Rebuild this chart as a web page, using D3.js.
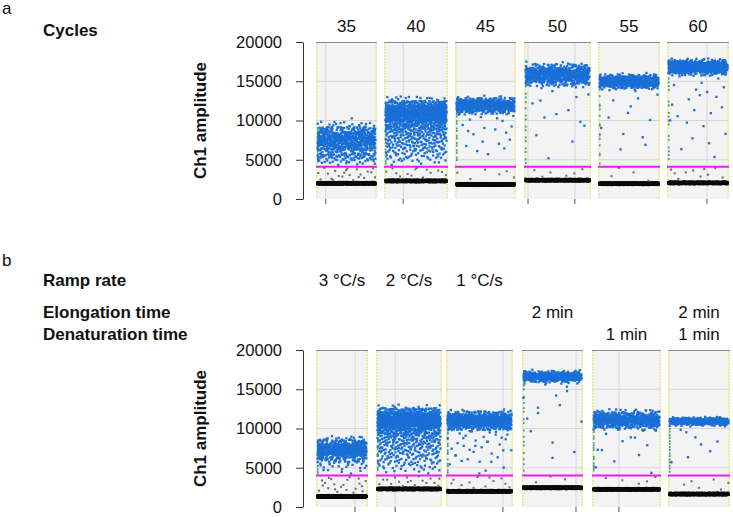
<!DOCTYPE html>
<html><head><meta charset="utf-8">
<script src="https://cdn.jsdelivr.net/npm/d3@7"></script>
<style>
html,body{margin:0;padding:0;background:#fff;}
svg{display:block;font-family:"Liberation Sans",Arial,sans-serif;}
</style></head>
<body>
<svg id="chart" width="733" height="517"></svg>
<script>
// ---------------- DATA ----------------
const cycleLabels = ["35","40","45","50","55","60"];
const rampLabels  = ["3 °C/s","2 °C/s","1 °C/s","","",""];
const elongLabels = ["","","","2 min","","2 min"];
const denatLabels = ["","","","","1 min","1 min"];
const yTicks = [0,5000,10000,15000,20000];

const thresholdA = 4100;
const thresholdB = 4000;

// panel a (cycles): cluster summaries
const negLevelA   = [2000,2300,1850,2400,1950,2050];
const posCenterA  = [7500,10900,11900,15800,14950,16800];
const posHalfA    = [2900,2500,1400,1900,1200,1300];
const posCountA   = [620,1000,600,650,650,700];
const rainCountA  = [70,300,20,14,14,24];
const negRainA    = [22,14,6,6,4,10];

// panel b (ramp rate / elongation / denaturation)
const negLevelB   = [1350,2300,2000,2450,2250,1650];
const posCenterB  = [7300,11000,11000,16600,11100,10900];
const posHalfB    = [2000,2300,1600,1000,1600,700];
const posCountB   = [520,1000,780,450,600,420];
const rainCountB  = [35,300,40,14,14,9];
const negRainB    = [22,18,12,3,5,6];

// ---------------- LAYOUT ----------------
const layoutA = {top:42, bottom:199, panels:[[316,377],[384,448],[455,516],[524,591],[598,660],[667,729]],
  vgrid:[[0.16],[0.30],[],[0.06,0.76],[],[0.645]]};
const layoutB = {top:350, bottom:507, panels:[[316,368],[376,442],[446,513],[522,583],[592,661],[668,730]],
  vgrid:[[0.75],[0.29],[0.85],[0.885],[0.39],[]]};

const svg = d3.select("#chart");

function halton(i, b){ let f=1, r=0; while(i>0){ f/=b; r+=f*(i%b); i=Math.floor(i/b);} return r; }

function drawBlock(layout, thr, negL, posC, posH, posN, rainN, negRainN, blockIdx){
  const y = d3.scaleLinear().domain([0,20000]).range([layout.bottom, layout.top]);
  const ax = svg.append("g").attr("transform",`translate(303,0)`)
    .call(d3.axisLeft(y).tickValues(yTicks).tickSize(7).tickSizeOuter(0).tickPadding(14).tickFormat(d3.format("d")));
  ax.select(".domain").attr("stroke","#333");
  ax.selectAll(".tick line").attr("stroke","#333");
  ax.selectAll("text").attr("font-size","16.5px").attr("fill","#111");

  layout.panels.forEach((p,i)=>{
    const [x0,x1] = p;
    const x = d3.scaleLinear().domain([0,1]).range([x0+1.5,x1-1.5]);
    const g = svg.append("g");
    const cid = `clip${blockIdx}_${i}`;
    svg.append("clipPath").attr("id",cid).append("rect")
      .attr("x",x0).attr("y",layout.top).attr("width",x1-x0).attr("height",layout.bottom-layout.top);
    g.append("rect").attr("x",x0).attr("y",layout.top).attr("width",x1-x0).attr("height",layout.bottom-layout.top)
      .attr("fill","#f3f3f3");
    g.selectAll(".hg").data([5000,10000,15000]).join("line")
      .attr("x1",x0).attr("x2",x1).attr("y1",d=>y(d)).attr("y2",d=>y(d))
      .attr("stroke","#d6d6d6").attr("stroke-width",1);
    const vx = layout.vgrid[i].map(f=>x0+f*(x1-x0));
    g.selectAll(".vg").data(vx).join("line")
      .attr("x1",d=>d).attr("x2",d=>d).attr("y1",layout.top).attr("y2",layout.bottom)
      .attr("stroke","#d6d6d6");
    g.selectAll(".vt").data(vx).join("line")
      .attr("x1",d=>d).attr("x2",d=>d).attr("y1",layout.bottom).attr("y2",layout.bottom+5)
      .attr("stroke","#555");
    g.append("line").attr("x1",x0).attr("x2",x1).attr("y1",layout.top+0.5).attr("y2",layout.top+0.5)
      .attr("stroke","#8a8a8a").attr("stroke-width",1.2);
    [x0+0.8,x1-0.8].forEach(ex=>{
      g.append("line").attr("x1",ex).attr("x2",ex).attr("y1",layout.top+1).attr("y2",layout.bottom)
        .attr("stroke","#eeea8c").attr("stroke-width",1.6).attr("stroke-dasharray","2,1");
    });
    g.append("line").attr("x1",x0).attr("x2",x1).attr("y1",y(thr)).attr("y2",y(thr))
      .attr("stroke","#f018f0").attr("stroke-width",2);

    const pts = g.append("g").attr("clip-path",`url(#${cid})`);
    const seed = 37 + 2311*(i + 6*blockIdx);
    const neg = d3.range(700).map(k=>{ const j=k+seed; return [halton(j,2), negL[i] + 170*(halton(j,3)+halton(j,5)-1)]; });
    const nrain = d3.range(negRainN[i]).map(k=>{ const j=k+seed+5000; return [halton(j,2), negL[i]+350 + (thr-negL[i]-450)*halton(j,3)]; });
    const pos = d3.range(posN[i]).map(k=>{ const j=k+seed+9000;
      const t=(halton(j,3)+halton(j,5)+halton(j,7))/1.5-1;
      return [halton(j,2), posC[i] + posH[i]*t]; });
    const bottomPos = posC[i]-posH[i]*0.6;
    const rain = d3.range(rainN[i]).map(k=>{ const j=k+seed+15000; const u=Math.pow(halton(j,3),0.6);
      return [halton(j,2), thr+200 + (bottomPos-thr-200)*u]; });
    const edge = d3.range(18).map(k=>{ const j=k+seed+21000; return [0, thr+300 + (posC[i]+posH[i]*0.6-thr-300)*halton(j,3)]; });

    pts.selectAll(".n").data(neg).join("rect")
      .attr("x",d=>x(d[0])-1.3).attr("y",d=>y(d[1])-1.3).attr("width",2.6).attr("height",2.6).attr("fill","#0a0a0a");
    pts.selectAll(".nr").data(nrain).join("rect")
      .attr("x",d=>x(d[0])-1).attr("y",d=>y(d[1])-1).attr("width",2).attr("height",2).attr("fill","#6a6a6a");
    pts.selectAll(".e").data(edge).join("rect")
      .attr("x",d=>x0+1).attr("y",d=>y(d[1])-1).attr("width",1.6).attr("height",2).attr("fill","#3a9aa6");
    pts.selectAll(".r").data(rain).join("rect")
      .attr("x",d=>x(d[0])-1.15).attr("y",d=>y(d[1])-1.15).attr("width",2.3).attr("height",2.3).attr("fill","#1a6fd6");
    pts.selectAll(".p").data(pos).join("rect")
      .attr("x",d=>x(d[0])-1.15).attr("y",d=>y(d[1])-1.15).attr("width",2.3).attr("height",2.3).attr("fill","#1a6fd6");
  });

  svg.append("text").attr("transform",`translate(206,${(layout.top+layout.bottom)/2}) rotate(-90)`)
    .attr("text-anchor","middle").attr("font-size","17px").attr("font-weight","bold").attr("fill","#111")
    .text("Ch1 amplitude");
}

drawBlock(layoutA, thresholdA, negLevelA, posCenterA, posHalfA, posCountA, rainCountA, negRainA, 0);
drawBlock(layoutB, thresholdB, negLevelB, posCenterB, posHalfB, posCountB, rainCountB, negRainB, 1);

svg.append("text").attr("x",2).attr("y",14).attr("font-size","17px").attr("fill","#111").text("a");
svg.append("text").attr("x",2).attr("y",266).attr("font-size","17px").attr("fill","#111").text("b");

const bold = (t,xx,yy)=>svg.append("text").attr("x",xx).attr("y",yy).attr("font-size","17px").attr("font-weight","bold").attr("fill","#111").text(t);
bold("Cycles",43,36);
bold("Ramp rate",43,286);
bold("Elongation time",43,318);
bold("Denaturation time",43,340);

function colLabels(labels, layout, yy){
  svg.append("g").selectAll("text").data(labels).join("text")
    .attr("x",(d,i)=>(layout.panels[i][0]+layout.panels[i][1])/2).attr("y",yy)
    .attr("text-anchor","middle").attr("font-size","17px").attr("fill","#111").text(d=>d);
}
colLabels(cycleLabels, layoutA, 32);
colLabels(rampLabels, layoutB, 286);
colLabels(elongLabels, layoutB, 318);
colLabels(denatLabels, layoutB, 340);
</script>
</body></html>
